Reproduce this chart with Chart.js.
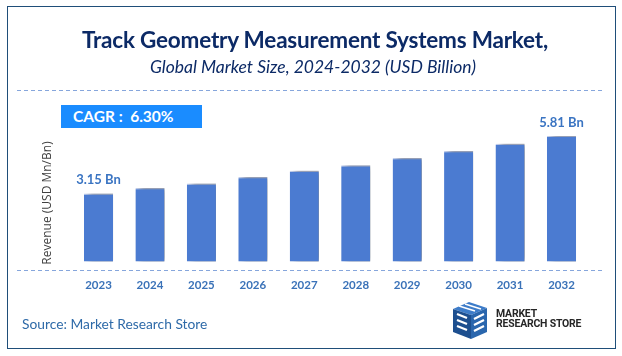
<!DOCTYPE html>
<html>
<head>
<meta charset="utf-8">
<script src="https://cdn.jsdelivr.net/npm/chart.js@4.4.1/dist/chart.umd.min.js"></script>
<style>
  html,body{margin:0;padding:0;background:#fff;}
  body{width:622px;height:356px;position:relative;overflow:hidden;font-family:Lato,"Open Sans",sans-serif;}
  #frame{position:absolute;left:7px;top:6px;width:607px;height:341px;border:1.5px solid #1f4e79;}
  #title{position:absolute;left:0;width:630px;top:26px;text-align:center;font-weight:bold;font-size:22.5px;color:#0c2a66;letter-spacing:-0.2px;}
  #subtitle{position:absolute;left:0;width:626px;top:56px;text-align:center;font-style:italic;font-size:17.5px;color:#0c2a66;}
  #cagr{position:absolute;left:61px;top:105px;width:141px;height:23px;background:#1a8cff;color:#fff;font-weight:bold;font-size:15.5px;line-height:23px;box-sizing:border-box;padding-left:12px;}
  #source{position:absolute;left:22px;top:315px;font-size:13.8px;color:#2e6aa8;}
  #logo{position:absolute;left:447px;top:301px;}
  #logotext{position:absolute;left:496px;top:309px;font-family:Roboto,sans-serif;font-weight:bold;font-size:11px;line-height:9.5px;color:#262626;transform:scaleX(0.95);transform-origin:left top;letter-spacing:-0.2px;}
  #chartwrap{position:absolute;left:0;top:0;width:622px;height:356px;}
</style>
</head>
<body>
<div id="frame"></div>
<div id="chartwrap"><canvas id="c" width="622" height="356"></canvas></div>
<div id="title">Track Geometry Measurement Systems Market,</div>
<div id="subtitle">Global Market Size, 2024-2032 (USD Billion)</div>
<div id="cagr">CAGR :&nbsp; 6.30%</div>
<div id="source">Source: Market Research Store</div>
<svg id="logo" width="48" height="40" viewBox="0 0 48 40">
  <polygon points="6,8 22,1 40,7 24,14" fill="#3d7cc9"/>
  <polygon points="6,8 24,14 24,38 6,31" fill="#1d4f8f"/>
  <polygon points="24,14 40,7 40,31 24,38" fill="#2a66ad"/>
  <path d="M10,13 L20,17 M10,19 L20,23 M10,25 L20,29" stroke="#fff" stroke-width="2.2"/>
  <path d="M27,18 L37,13 M27,24 L37,19 M27,30 L37,25" stroke="#fff" stroke-width="2.2"/>
  <path d="M12,5 L28,10 M18,3 L34,8" stroke="#fff" stroke-width="1.6"/>
</svg>
<div id="logotext">MARKET<br>RESEARCH STORE</div>
<script>
const categories = ["2023","2024","2025","2026","2027","2028","2029","2030","2031","2032"];
const revenue = [3.15, 3.40, 3.61, 3.91, 4.20, 4.45, 4.79, 5.11, 5.45, 5.81];
const valueLabels = ["3.15 Bn", "", "", "", "", "", "", "", "", "5.81 Bn"];
const yAxisTitle = "Revenue (USD Mn/Bn)";

const shadowPlugin = {
  id: 'barShadow',
  beforeDatasetsDraw(chart) {
    const ctx = chart.ctx;
    ctx.save();
    ctx.shadowColor = 'rgba(0,0,0,0.55)';
    ctx.shadowBlur = 6;
    ctx.shadowOffsetX = 5;
    ctx.shadowOffsetY = 0;
  },
  afterDatasetsDraw(chart) {
    const ctx = chart.ctx;
    ctx.restore();
    const area = chart.chartArea;
    ctx.save();
    ctx.strokeStyle = '#86a6dc';
    ctx.lineWidth = 1.2;
    ctx.setLineDash([4, 3]);
    ctx.beginPath();
    ctx.moveTo(17, Math.round(area.bottom) + 0.5);
    ctx.lineTo(603, Math.round(area.bottom) + 0.5);
    ctx.stroke();
    ctx.beginPath();
    ctx.moveTo(17, 90.5);
    ctx.lineTo(603, 90.5);
    ctx.stroke();
    ctx.setLineDash([]);
    const meta = chart.getDatasetMeta(0);
    ctx.font = 'bold 13px Lato, sans-serif';
    ctx.fillStyle = '#3a74c2';
    ctx.textAlign = 'center';
    ctx.textBaseline = 'middle';
    meta.data.forEach((bar, i) => {
      if (valueLabels[i]) ctx.fillText(valueLabels[i], bar.x, bar.y - 13.5);
    });
    ctx.translate(47.5, 203);
    ctx.rotate(-Math.PI / 2);
    ctx.font = '12px "Open Sans", sans-serif';
    ctx.fillStyle = '#404040';
    ctx.fillText(yAxisTitle, 0, 0);
    ctx.restore();
  }
};

new Chart(document.getElementById('c'), {
  type: 'bar',
  data: {
    labels: categories,
    datasets: [{
      data: revenue,
      backgroundColor: '#4b7bd1',
      borderColor: '#c5d2f0',
      borderWidth: {top: 1.2, left: 0, right: 0, bottom: 0},
      borderSkipped: 'bottom',
      categoryPercentage: 1,
      barPercentage: 0.565
    }]
  },
  options: {
    responsive: false,
    animation: false,
    events: [],
    layout: { padding: { top: 121, left: 72.8, right: 34.8, bottom: 55.8 } },
    plugins: { legend: { display: false }, tooltip: { enabled: false } },
    scales: {
      x: {
        grid: { display: false, drawTicks: false },
        border: { display: false },
        ticks: { padding: 8, color: '#3a72b8', font: { family: 'Lato', size: 11.5, weight: 'bold' } }
      },
      y: {
        display: false,
        min: -0.41,
        max: 6.5
      }
    }
  },
  plugins: [shadowPlugin]
});
</script>
</body>
</html>
